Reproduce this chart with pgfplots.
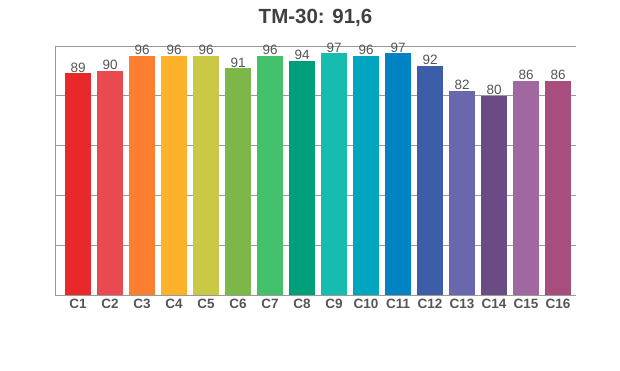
\documentclass[border=0pt]{standalone}
\usepackage{pgfplots}
\pgfplotsset{compat=1.18}
\usepackage{fontspec}
\setmainfont{Liberation Sans}
\definecolor{c1}{HTML}{E8282B}
\definecolor{c2}{HTML}{E84A4F}
\definecolor{c3}{HTML}{FB7F2F}
\definecolor{c4}{HTML}{FDB22A}
\definecolor{c5}{HTML}{C9C847}
\definecolor{c6}{HTML}{7DB74A}
\definecolor{c7}{HTML}{43C06A}
\definecolor{c8}{HTML}{009E7A}
\definecolor{c9}{HTML}{16BCB0}
\definecolor{c10}{HTML}{00A5C0}
\definecolor{c11}{HTML}{0083C2}
\definecolor{c12}{HTML}{3C5DA8}
\definecolor{c13}{HTML}{6A68AD}
\definecolor{c14}{HTML}{6A4B86}
\definecolor{c15}{HTML}{A067A1}
\definecolor{c16}{HTML}{A84E7E}
\definecolor{txt}{HTML}{555555}
\definecolor{ttl}{HTML}{404040}
\definecolor{gridc}{HTML}{999999}
\begin{document}
\begin{tikzpicture}[x=1pt,y=1pt]
\useasboundingbox (-55,-75) rectangle (565,295);
\begin{axis}[
  at={(0,0)}, anchor=south west,
  scale only axis, width=521pt, height=249pt,
  xmin=-0.72, xmax=15.56, ymin=0, ymax=100,
  ybar, bar width=0.8, bar shift=0pt,
  axis lines*=left,
  axis line style={draw=gridc, line width=1pt},
  xtick={0,...,15},
  xticklabels={C1,C2,C3,C4,C5,C6,C7,C8,C9,C10,C11,C12,C13,C14,C15,C16},
  xticklabel style={font=\fontsize{13.5}{14}\selectfont\bfseries, text=txt, yshift=-1pt},
  ytick={20,40,60,80,100}, yticklabels={},
  ymajorgrids, grid style={draw=gridc, line width=1pt},
  major tick length=0pt,
  /pgf/number format/assume math mode=true,
  nodes near coords,
  every node near coord/.append style={font=\fontsize{13.5}{14}\selectfont, text=txt, inner sep=1pt, anchor=south},
  title={\fontsize{20.5}{22}\selectfont\bfseries TM-30: 91,6},
  title style={at={(0.5,1)}, anchor=base, yshift=16pt, text=ttl},
  clip=false,
]
\addplot[fill=c1, draw=none] coordinates {(0,89)};
\addplot[fill=c2, draw=none] coordinates {(1,90)};
\addplot[fill=c3, draw=none] coordinates {(2,96)};
\addplot[fill=c4, draw=none] coordinates {(3,96)};
\addplot[fill=c5, draw=none] coordinates {(4,96)};
\addplot[fill=c6, draw=none] coordinates {(5,91)};
\addplot[fill=c7, draw=none] coordinates {(6,96)};
\addplot[fill=c8, draw=none] coordinates {(7,94)};
\addplot[fill=c9, draw=none] coordinates {(8,97)};
\addplot[fill=c10, draw=none] coordinates {(9,96)};
\addplot[fill=c11, draw=none] coordinates {(10,97)};
\addplot[fill=c12, draw=none] coordinates {(11,92)};
\addplot[fill=c13, draw=none] coordinates {(12,82)};
\addplot[fill=c14, draw=none] coordinates {(13,80)};
\addplot[fill=c15, draw=none] coordinates {(14,86)};
\addplot[fill=c16, draw=none] coordinates {(15,86)};
\end{axis}
\end{tikzpicture}
\end{document}
